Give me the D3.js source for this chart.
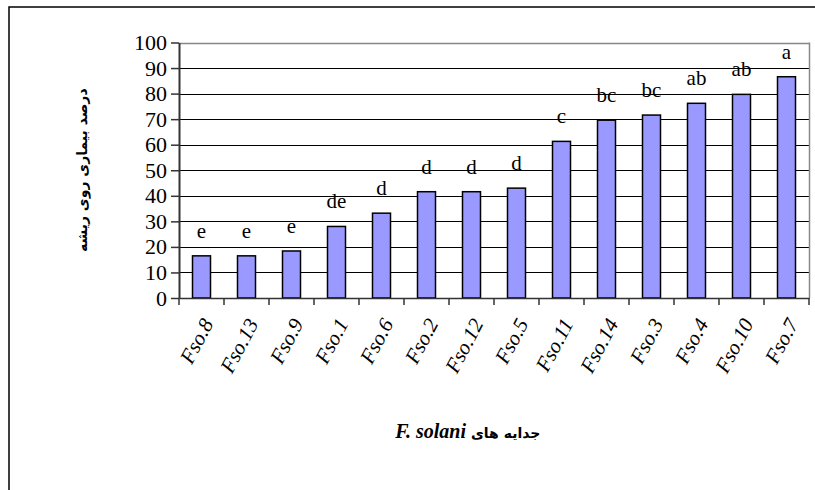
<!DOCTYPE html>
<html><head><meta charset="utf-8">
<script src="https://cdn.jsdelivr.net/npm/d3@7"></script>
<style>body{margin:0;background:#fff}svg{display:block}
.serif{font-family:"Liberation Serif","Tinos","Times New Roman","DejaVu Serif",serif}
</style>
</head><body>
<script>
const categories = ["Fso.8","Fso.13","Fso.9","Fso.1","Fso.6","Fso.2","Fso.12","Fso.5","Fso.11","Fso.14","Fso.3","Fso.4","Fso.10","Fso.7"];
const values = [16.5,16.5,18.4,28.0,33.2,41.6,41.6,43.0,61.3,69.6,71.6,76.2,79.7,86.6];
const letters = ["e","e","e","de","d","d","d","d","c","bc","bc","ab","ab","a"];
const yTicks = [0,10,20,30,40,50,60,70,80,90,100];
const yTitle = "درصد بیماری روی ریشه";
const xTitlePersian = "جدایه های";
const xTitleLatin = "F. solani";

const W = 815, H = 490;
const m = {left:179, right:6, top:42.5, bottom:192};
const svg = d3.select("body").append("svg").attr("width",W).attr("height",H);

svg.append("rect").attr("x",9).attr("y",7).attr("width",900).attr("height",600)
  .attr("fill","#fff").attr("stroke","#000").attr("stroke-width",1.5);

const x = d3.scaleBand().domain(categories).range([m.left, W-m.right]).paddingInner(0.6).paddingOuter(0.3);
const y = d3.scaleLinear().domain([0,100]).range([H-m.bottom, m.top]);

// gridlines
svg.append("g").selectAll("line").data(yTicks.filter(d=>d>0)).join("line")
  .attr("x1",m.left).attr("x2",W-m.right)
  .attr("y1",d=>Math.round(y(d))+0.5).attr("y2",d=>Math.round(y(d))+0.5)
  .attr("stroke","#000").attr("stroke-width",1);

// plot border
svg.append("line").attr("x1",W-m.right+0.5).attr("x2",W-m.right+0.5)
  .attr("y1",y(100)).attr("y2",y(0)).attr("stroke","#888").attr("stroke-width",1.5);
svg.append("line").attr("x1",m.left).attr("x2",W-m.right)
  .attr("y1",Math.round(y(100))+0.5).attr("y2",Math.round(y(100))+0.5).attr("stroke","#888").attr("stroke-width",1.5);

// letters
svg.append("g").selectAll("text").data(categories).join("text")
  .attr("class","serif")
  .attr("x",d=>x(d)+x.bandwidth()/2)
  .attr("y",(d,i)=>y(values[i])-18)
  .attr("text-anchor","middle")
  .style("font-size","21px")
  .text((d,i)=>letters[i]);

// bars
svg.append("g").selectAll("rect").data(categories).join("rect")
  .attr("x",d=>x(d)).attr("width",x.bandwidth())
  .attr("y",(d,i)=>y(values[i])).attr("height",(d,i)=>y(0)-y(values[i]))
  .attr("fill","#9999ff").attr("stroke","#000").attr("stroke-width",1.5);

// y axis
const ya = svg.append("g").attr("transform",`translate(${m.left},0)`)
  .call(d3.axisLeft(y).tickValues(yTicks).tickSize(8).tickSizeOuter(0).tickPadding(4));
ya.attr("font-family",null).attr("font-size",null);
ya.select(".domain").attr("stroke","#333").attr("stroke-width",2);
ya.selectAll(".tick line").attr("stroke","#333").attr("stroke-width",1.5);
ya.selectAll(".tick text").attr("class","serif").style("font-size","22px").attr("fill","#000");

// x axis
const xa = svg.append("g").attr("transform",`translate(0,${y(0)})`)
  .call(d3.axisBottom(x).tickSize(0).tickSizeOuter(0));
xa.attr("font-family",null).attr("font-size",null);
xa.select(".domain").attr("stroke","#333").attr("stroke-width",1.5);
xa.selectAll(".tick text").remove();
const step = x.step();
const bounds = categories.map((d,i)=>m.left + i*step).concat([W-m.right]);
xa.append("g").selectAll("line").data(bounds).join("line")
  .attr("x1",d=>d).attr("x2",d=>d).attr("y1",0).attr("y2",7)
  .attr("stroke","#333").attr("stroke-width",1.5);
xa.append("g").selectAll("text").data(categories).join("text")
  .attr("class","serif")
  .attr("transform",d=>`translate(${x(d)+x.bandwidth()/2+6},${22}) rotate(-62)`)
  .attr("text-anchor","end").attr("dy","0.35em")
  .style("font-style","italic").style("font-size","21px").attr("fill","#000")
  .text(d=>d);

// y title
svg.append("text").attr("transform",`translate(82,${(y(0)+y(100))/2}) rotate(-90)`)
  .attr("text-anchor","middle").attr("dy","0.35em")
  .style("font-family","'DejaVu Sans',sans-serif").style("font-weight","bold").style("font-size","14px")
  .text(yTitle);

// x title
const cx = 466;
svg.append("text").attr("class","serif").attr("x",cx).attr("y",438).attr("text-anchor","end")
  .style("font-weight","bold").style("font-style","italic").style("font-size","20px")
  .text(xTitleLatin);
svg.append("text").attr("x",cx+5).attr("y",438).attr("text-anchor","start")
  .style("font-family","'DejaVu Sans',sans-serif").style("font-weight","bold").style("font-size","14px")
  .text(xTitlePersian);
</script>
</body></html>
